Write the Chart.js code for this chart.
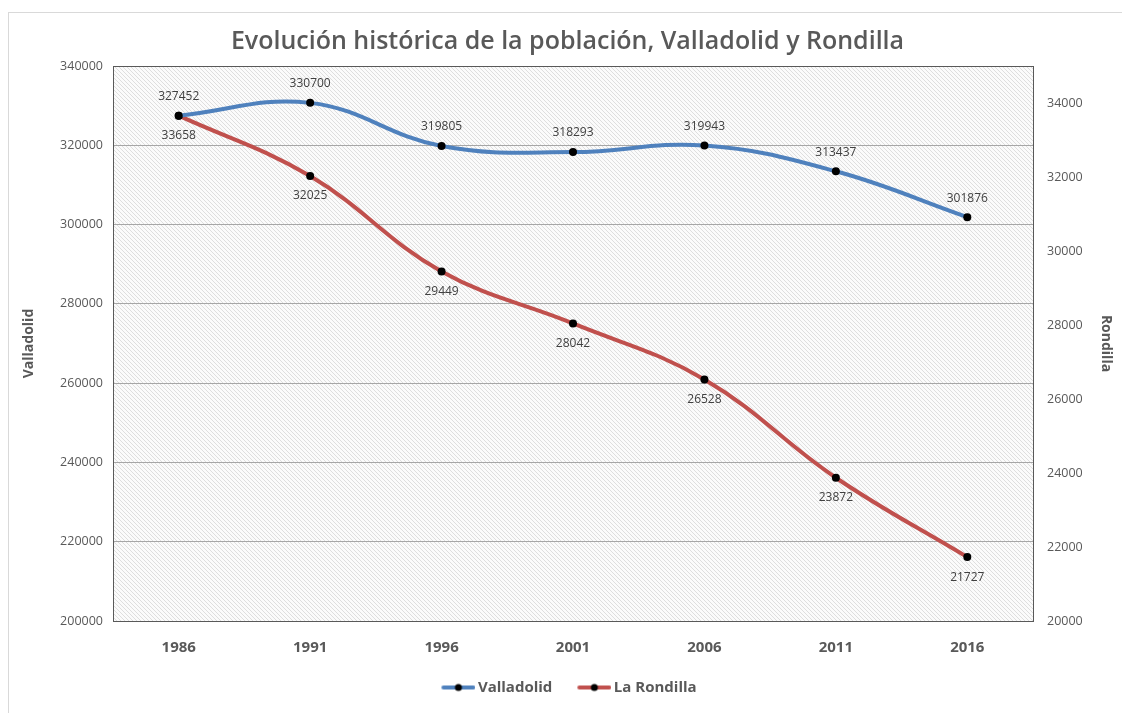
<!DOCTYPE html>
<html>
<head>
<meta charset="utf-8">
<script src="https://cdn.jsdelivr.net/npm/chart.js@4.4.1/dist/chart.umd.min.js"></script>
<style>
  html, body { margin: 0; padding: 0; background: #fff; }
  #wrap { width: 1122px; height: 713px; }
</style>
</head>
<body>
<div id="wrap"><canvas id="popChart" width="1122" height="713"></canvas></div>
<script>
const years = ["1986", "1991", "1996", "2001", "2006", "2011", "2016"];
const valladolid = [327452, 330700, 319805, 318293, 319943, 313437, 301876];
const rondilla = [33658, 32025, 29449, 28042, 26528, 23872, 21727];
const leftTicks = [200000, 220000, 240000, 260000, 280000, 300000, 320000, 340000];
const rightTicks = [20000, 22000, 24000, 26000, 28000, 30000, 32000, 34000];

const blue = "#4f81bd";
const red = "#c0504d";
const grey = "#595959";
const font = "'Open Sans', sans-serif";

// fondo rayado de la zona de trazado
function hatch() {
    const c = document.createElement("canvas");
    c.width = 4; c.height = 4;
    const g = c.getContext("2d");
    g.fillStyle = "#fbfbfb";
    g.fillRect(0, 0, 4, 4);
    g.strokeStyle = "#dedede";
    g.lineWidth = 1;
    g.beginPath();
    g.moveTo(-1, -1); g.lineTo(5, 5);
    g.moveTo(-1, 3); g.lineTo(1, 5);
    g.moveTo(3, -1); g.lineTo(5, 1);
    g.stroke();
    return c;
}

// icono de leyenda: línea con punto, con margen transparente a la izquierda
function legendIcon(color) {
    const c = document.createElement("canvas");
    c.width = 42; c.height = 10;
    const g = c.getContext("2d");
    g.strokeStyle = color;
    g.lineWidth = 4;
    g.lineCap = "round";
    g.beginPath(); g.moveTo(10, 5); g.lineTo(40, 5); g.stroke();
    g.fillStyle = "#000";
    g.beginPath(); g.arc(25, 5, 3.5, 0, Math.PI * 2); g.fill();
    return c;
}

const bgPlugin = {
    id: "bg",
    beforeDraw(chart) {
        const { ctx, chartArea: a } = chart;
        ctx.save();
        ctx.strokeStyle = "#d9d9d9";
        ctx.lineWidth = 1;
        ctx.strokeRect(8.5, 12.5, 1130, 720);
        ctx.fillStyle = ctx.createPattern(hatch(), "repeat");
        ctx.fillRect(a.left, a.top, a.right - a.left, a.bottom - a.top);
        ctx.restore();
    },
    afterDraw(chart) {
        const { ctx, chartArea: a } = chart;
        ctx.save();
        ctx.strokeStyle = "#595959";
        ctx.lineWidth = 1;
        ctx.strokeRect(a.left + 0.5, a.top + 0.5, a.right - a.left, a.bottom - a.top);
        ctx.restore();
    }
};

const labelPlugin = {
    id: "labels",
    afterDatasetsDraw(chart) {
        const ctx = chart.ctx;
        ctx.save();
        ctx.font = "12px " + font;
        ctx.fillStyle = "#404040";
        ctx.textAlign = "center";
        ctx.textBaseline = "middle";
        chart.data.datasets.forEach((ds, i) => {
            const off = i === 0 ? -19 : 20;
            chart.getDatasetMeta(i).data.forEach((pt, j) => {
                ctx.fillText(ds.data[j], pt.x, pt.y + off);
            });
        });
        ctx.restore();
    }
};

new Chart(document.getElementById("popChart"), {
    type: "line",
    data: {
        labels: years,
        datasets: [
            {
                label: "Valladolid",
                data: valladolid,
                yAxisID: "y",
                borderColor: blue,
                borderWidth: 4,
                tension: 0.4,
                pointRadius: 4,
                pointBackgroundColor: "#000",
                pointBorderColor: "#000",
                pointBorderWidth: 0
            },
            {
                label: "La Rondilla",
                data: rondilla,
                yAxisID: "y1",
                borderColor: red,
                borderWidth: 4,
                tension: 0.4,
                pointRadius: 4,
                pointBackgroundColor: "#000",
                pointBorderColor: "#000",
                pointBorderWidth: 0
            }
        ]
    },
    options: {
        responsive: false,
        animation: false,
        layout: { padding: { left: 17, right: 4, top: 8, bottom: 8 } },
        plugins: {
            title: {
                display: true,
                text: "Evolución histórica de la población, Valladolid y Rondilla",
                color: grey,
                font: { family: font, size: 25, weight: "600" },
                padding: { top: 19, bottom: 9 }
            },
            legend: {
                position: "bottom",
                labels: {
                    color: grey,
                    font: { family: font, size: 15, weight: "bold" },
                    usePointStyle: true,
                    pointStyleWidth: 32,
                    padding: 22,
                    generateLabels(chart) {
                        return chart.data.datasets.map((ds, i) => ({
                            text: ds.label,
                            pointStyle: legendIcon(ds.borderColor),
                            fontColor: grey,
                            datasetIndex: i,
                            hidden: false,
                            lineWidth: 0
                        }));
                    }
                }
            },
            tooltip: { enabled: false }
        },
        scales: {
            x: {
                offset: true,
                grid: { display: false },
                border: { display: false },
                ticks: {
                    color: grey,
                    padding: 10,
                    font: { family: font, size: 15, weight: "bold" }
                },
                afterFit(s) { s.height = 37; }
            },
            y: {
                position: "left",
                min: leftTicks[0],
                max: leftTicks[leftTicks.length - 1],
                afterBuildTicks(s) { s.ticks = leftTicks.map(v => ({ value: v })); },
                ticks: {
                    color: grey,
                    padding: 10,
                    callback: v => String(v),
                    font: { family: font, size: 12.5 }
                },
                grid: { color: "#a6a6a6", drawTicks: false },
                border: { display: false },
                title: {
                    display: true,
                    text: "Valladolid",
                    color: grey,
                    font: { family: font, size: 14, weight: "bold" }
                },
                afterFit(s) { s.width = 96; }
            },
            y1: {
                position: "right",
                min: 20000,
                max: 35000,
                afterBuildTicks(s) { s.ticks = rightTicks.map(v => ({ value: v })); },
                ticks: {
                    color: grey,
                    padding: 14,
                    callback: v => String(v),
                    font: { family: font, size: 12.5 }
                },
                grid: { display: false, drawTicks: false },
                border: { display: false },
                title: {
                    display: true,
                    text: "Rondilla",
                    color: grey,
                    font: { family: font, size: 14, weight: "bold" }
                },
                afterFit(s) { s.width = 85; }
            }
        }
    },
    plugins: [bgPlugin, labelPlugin]
});
</script>
</body>
</html>
